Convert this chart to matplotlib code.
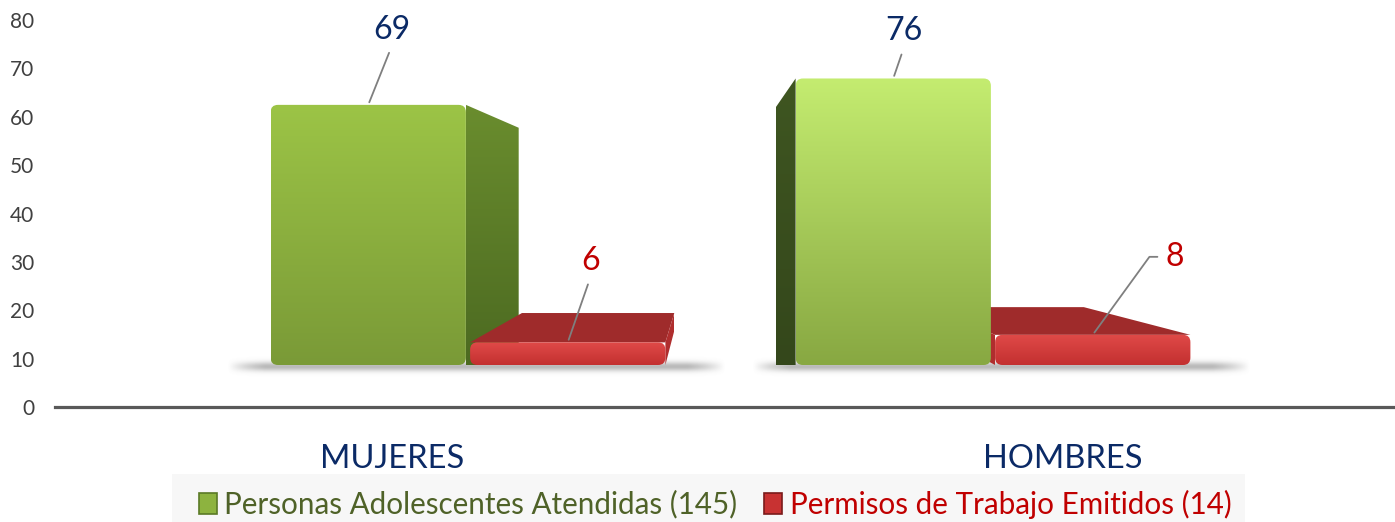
import numpy as np
import matplotlib
matplotlib.use("Agg")
import matplotlib.pyplot as plt
from matplotlib.patches import FancyBboxPatch, Polygon, Patch, Rectangle
from matplotlib.colors import LinearSegmentedColormap

plt.rcParams['font.family'] = ['Lato', 'DejaVu Sans']

# data
categories = ['MUJERES', 'HOMBRES']
series_names = ['Personas Adolescentes Atendidas (145)', 'Permisos de Trabajo Emitidos (14)']
atendidas = [69, 76]
permisos = [6, 8]
y_ticks = [0, 10, 20, 30, 40, 50, 60, 70, 80]

W, H = 1395, 522
fig = plt.figure(figsize=(W / 100, H / 100), dpi=100)

# axes frame (pixels from top-left)
left_px, right_px, bottom_px, top_px = 55, 1395, 407, 20
rect = [left_px / W, 1 - bottom_px / H, (right_px - left_px) / W, (bottom_px - top_px) / H]
ax = fig.add_axes(rect)          # value axis + baseline
bx = fig.add_axes(rect)          # 3d-looking bars
bx.patch.set_visible(False)
bx.axis('off')

# horizontal layout: one unit per category group
group_px = 525
x_lim = ((left_px - 468) / group_px, (right_px - 468) / group_px)

# bars stand on a floor above the baseline (3d perspective look)
floor_px = 42
bar_scale = 3.77
bar_ylim = (-floor_px / bar_scale, -floor_px / bar_scale + (bottom_px - top_px) / bar_scale)

# perspective: back face = front + k * (vp - front)
vp = (0.453, 41.4)
k = 0.22

half_w = 0.186
offsets = [-0.19, 0.19]

green_front = [('#9cc446', '#7a9a37'), ('#c4ec70', '#88a842')]
green_side = [('#6a8d2e', '#4c6a21'), ('#3f5621', '#34471b')]
red_front = ('#e04a48', '#c33030')
red_top = '#9f2b2b'
red_side = '#b02e2e'


def back(p):
    return (p[0] + k * (vp[0] - p[0]), p[1] + k * (vp[1] - p[1]))


def gradient_patch(patch, x0, x1, y0, y1, c_top, c_bot, z):
    bx.add_patch(patch)
    cmap = LinearSegmentedColormap.from_list('g', [c_bot, c_top])
    grad = np.linspace(0, 1, 128)[:, None]
    im = bx.imshow(grad, extent=(x0, x1, y0, y1), origin='lower', cmap=cmap,
                   aspect='auto', zorder=z, interpolation='bicubic')
    im.set_clip_path(patch)


def side_face(x, h, col, z):
    bt = back((x, h))
    # low slabs: full perspective, tall bars: flat bottom edge
    bb = back((x, 0)) if h < vp[1] else (bt[0], 0)
    poly = Polygon([(x, 0), (x, h), bt, bb], closed=True, fc='none', ec='none')
    xa, xb = sorted([x, bt[0]])
    gradient_patch(poly, xa, xb, 0, max(h, bt[1]), col[0], col[1], z)


def draw_bar(xc, h, front, side, top, z):
    x0, x1 = xc - half_w, xc + half_w
    if h < vp[1]:
        bt1, bt0 = back((x1, h)), back((x0, h))
        bx.add_patch(Polygon([(x0, h), (x1, h), bt1, bt0], closed=True,
                             fc=top, ec='none', zorder=z))
    if x1 < vp[0]:
        side_face(x1, h, side, z + 0.1)
    if x0 > vp[0]:
        side_face(x0, h, side, z + 0.1)
    face = FancyBboxPatch((x0, 0), x1 - x0, h, boxstyle='round,pad=0,rounding_size=0.014',
                          mutation_aspect=group_px / bar_scale, fc='none', ec='none')
    gradient_patch(face, x0, x1, 0, h, front[0], front[1], z + 0.2)


# soft floor shadow under each group
for i in range(len(categories)):
    sx0, sx1 = i - 0.46, i + 0.49
    xs = np.linspace(-1, 1, 200)
    ys = np.linspace(-1, 1, 40)
    fx = np.clip(1.6 * (1 - np.abs(xs) ** 6), 0, 1)
    fy = np.exp(-(ys * 2.2) ** 2)
    img = np.zeros((40, 200, 4))
    img[..., :3] = 0.45
    img[..., 3] = 0.5 * fy[:, None] * fx[None, :]
    bx.imshow(img, extent=(sx0, sx1, -3.2, 2.2), origin='lower', aspect='auto',
              zorder=1, interpolation='bicubic')

bars = []
for i in range(len(categories)):
    bars.append((abs(i + offsets[0] - vp[0]), i + offsets[0], atendidas[i], green_front[i], green_side[i], None))
    bars.append((abs(i + offsets[1] - vp[0]), i + offsets[1], permisos[i], red_front, (red_side, red_side), red_top))
bars.sort(key=lambda b: -b[0])
for n, (_, xc, h, front, side, top) in enumerate(bars):
    draw_bar(xc, h, front, side, top, 2 + n)

# value labels with leader lines (offsets in pixels)
lbl_kw = dict(textcoords='offset pixels', fontsize=23, zorder=20)
line_kw = dict(arrowstyle='-', color='#7f7f7f', lw=1.3, shrinkA=4, shrinkB=2)
navy = '#0b2a66'
red = '#c00000'
label_offsets_green = [(24, 60), (11, 32)]
for i in range(len(categories)):
    xg = i + offsets[0]
    bx.annotate(str(atendidas[i]), xy=(xg, atendidas[i]), xytext=label_offsets_green[i],
                ha='center', va='bottom', color=navy,
                arrowprops=dict(relpos=(0.5, 0), **line_kw), **lbl_kw)
xr = 0 + offsets[1]
bx.annotate(str(permisos[0]), xy=(xr, permisos[0]), xytext=(23, 66),
            ha='center', va='bottom', color=red,
            arrowprops=dict(relpos=(0.5, 0), **line_kw), **lbl_kw)
xr = 1 + offsets[1]
bx.annotate(str(permisos[1]), xy=(xr, permisos[1]), xytext=(73, 78),
            ha='left', va='center', color=red,
            arrowprops=dict(relpos=(0, 0.5), connectionstyle='angle,angleA=0,angleB=54,rad=0',
                            **line_kw), **lbl_kw)

bx.set_xlim(*x_lim)
bx.set_ylim(*bar_ylim)

# value axis
ax.set_xlim(*x_lim)
ax.set_ylim(0, 80)
ax.set_yticks(y_ticks)
ax.tick_params(axis='y', length=0, pad=15, labelsize=15, labelcolor='#404040')
for s in ['left', 'right', 'top']:
    ax.spines[s].set_visible(False)
ax.spines['bottom'].set_color('#595959')
ax.spines['bottom'].set_linewidth(2.3)
ax.set_xticks([-0.145, 1.133])
ax.set_xticklabels(categories)
ax.tick_params(axis='x', length=0, pad=27, labelsize=23.5, labelcolor='#0b2a66')

# legend
fig.patches.append(Rectangle((172 / W, 0), (1245 - 172) / W, 48 / H, transform=fig.transFigure,
                             fc='#f7f7f7', ec='none', zorder=0))
handles = [Patch(fc='#8db33f', ec='#5a7a26', lw=1.2), Patch(fc='#c83232', ec='#7a1a1a', lw=1.2)]
leg = fig.legend(handles, series_names, loc='center', bbox_to_anchor=(715 / W, 1 - 504 / H),
                 ncol=2, frameon=False, fontsize=21.3, handlelength=0.62, handleheight=0.72,
                 handletextpad=0.25, columnspacing=0.9, borderaxespad=0)
for t, c in zip(leg.get_texts(), ['#4f6228', '#c00000']):
    t.set_color(c)

fig.savefig('out.png', dpi=100)
